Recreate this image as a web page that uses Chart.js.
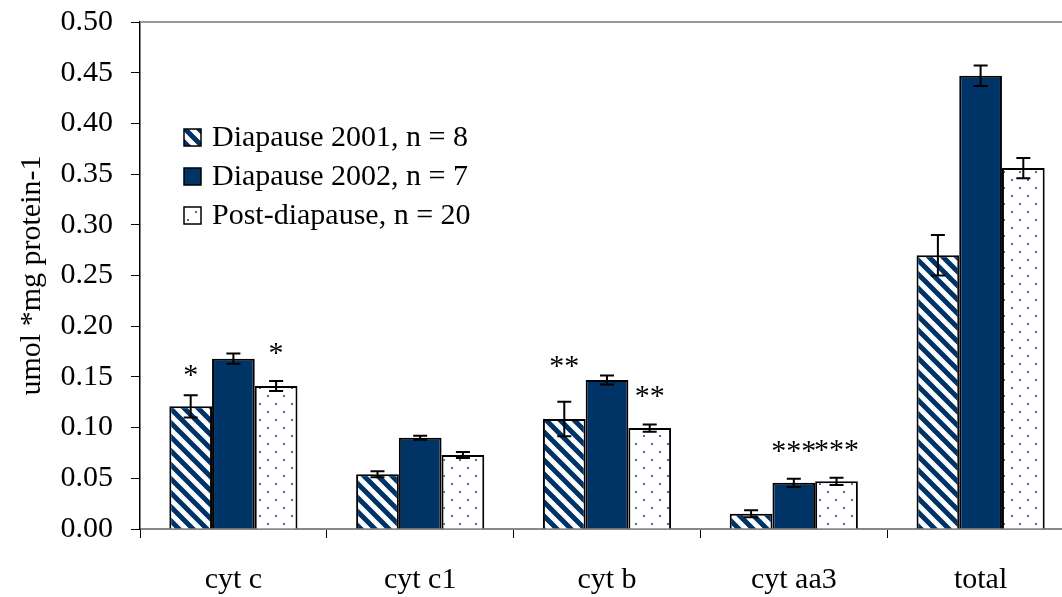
<!DOCTYPE html>
<html>
<head>
<meta charset="utf-8">
<script src="https://cdn.jsdelivr.net/npm/chart.js@4"></script>
<style>
  body { margin: 0; background: #fff; }
  #wrap { width: 1062px; height: 597px; }
</style>
</head>
<body>
<div id="wrap"><canvas id="myChart" width="1062" height="597"></canvas></div>
<script>
let categories = ['cyt c', 'cyt c1', 'cyt b', 'cyt aa3', 'total'];
let seriesNames = ['Diapause 2001, n = 8', 'Diapause 2002, n = 7', 'Post-diapause, n = 20'];
let diapause2001 = [0.121, 0.054, 0.1085, 0.015, 0.27];
let diapause2002 = [0.168, 0.090, 0.147, 0.0455, 0.447];
let postDiapause = [0.141, 0.073, 0.0995, 0.047, 0.356];
let err2001 = [0.011, 0.003, 0.017, 0.0035, 0.020];
let err2002 = [0.005, 0.002, 0.0045, 0.004, 0.010];
let errPost = [0.005, 0.003, 0.0035, 0.0035, 0.010];
// significance marks: [dataset, category, text]
let stars = [
    [0, 0, '*'], [2, 0, '*'],
    [0, 2, '**'], [2, 2, '**'],
    [1, 3, '***'], [2, 3, '***']
];

const navy = '#003366';
const serif = "'Liberation Serif', 'Times New Roman', serif";

function hatchPattern() {
    let c = document.createElement('canvas');
    c.width = 14; c.height = 14;
    let g = c.getContext('2d');
    g.fillStyle = '#fff';
    g.fillRect(0, 0, 14, 14);
    g.strokeStyle = navy;
    g.lineWidth = 5;
    g.beginPath();
    for (let k = -14; k <= 14; k += 14) {
        g.moveTo(k - 3, -3);
        g.lineTo(k + 17, 17);
    }
    g.stroke();
    return g.createPattern(c, 'repeat');
}

function dotPattern() {
    let c = document.createElement('canvas');
    c.width = 16; c.height = 16;
    let g = c.getContext('2d');
    g.fillStyle = '#fff';
    g.fillRect(0, 0, 16, 16);
    g.fillStyle = '#4a6fa0';
    g.fillRect(3, 3, 2, 2);
    g.fillRect(11, 11, 2, 2);
    return g.createPattern(c, 'repeat');
}

let errors = [err2001, err2002, errPost];

const errorBars = {
    id: 'errorBars',
    afterDatasetsDraw(chart) {
        let ctx = chart.ctx;
        let y = chart.scales.y;
        ctx.save();
        ctx.strokeStyle = '#000';
        ctx.lineWidth = 2;
        chart.data.datasets.forEach((ds, di) => {
            let meta = chart.getDatasetMeta(di);
            meta.data.forEach((bar, i) => {
                let v = ds.data[i], e = errors[di][i];
                let top = y.getPixelForValue(v + e);
                let bot = y.getPixelForValue(v - e);
                ctx.beginPath();
                ctx.moveTo(bar.x, top); ctx.lineTo(bar.x, bot);
                ctx.moveTo(bar.x - 7, top); ctx.lineTo(bar.x + 7, top);
                ctx.moveTo(bar.x - 7, bot); ctx.lineTo(bar.x + 7, bot);
                ctx.stroke();
            });
        });
        // stars above the error bars
        ctx.fillStyle = '#000';
        ctx.font = '30px ' + serif;
        ctx.textAlign = 'center';
        ctx.textBaseline = 'middle';
        stars.forEach(([di, i, t]) => {
            let bar = chart.getDatasetMeta(di).data[i];
            let v = chart.data.datasets[di].data[i] + errors[di][i];
            let py = y.getPixelForValue(v) - 36;
            if (i === 0 && di === 0) py += 8;
            if (i === 2 && di === 0) py -= 8;
            ctx.fillText(t, bar.x, py + 9);
        });
        ctx.restore();
    }
};

// the plot runs a little past the right edge of the picture
const widenX = {
    id: 'widenX',
    afterLayout(chart) {
        let x = chart.scales.x;
        x.right += 12;
        x.width += 12;
        chart.chartArea.right += 12;
        chart.chartArea.width += 12;
        x.configure();
    }
};

let ctx = document.getElementById('myChart');

let myChart = new Chart(ctx, {
    type: 'bar',
    data: {
        labels: categories,
        datasets: [{
            label: seriesNames[0],
            data: diapause2001,
            backgroundColor: hatchPattern(),
            borderColor: '#000',
            borderWidth: 2
        }, {
            label: seriesNames[1],
            data: diapause2002,
            backgroundColor: navy,
            borderColor: '#000',
            borderWidth: 2
        }, {
            label: seriesNames[2],
            data: postDiapause,
            backgroundColor: dotPattern(),
            borderColor: '#000',
            borderWidth: 2
        }]
    },
    options: {
        responsive: false,
        animation: false,
        layout: { padding: { top: 22, left: 10, right: 0, bottom: 0 } },
        datasets: { bar: { categoryPercentage: 0.686, barPercentage: 1.0 } },
        plugins: {
            legend: { display: false },
            tooltip: { enabled: false }
        },
        scales: {
            x: {
                afterFit: s => { s.height = 68; s.paddingLeft = 0; s.paddingRight = 0; },
                grid: {
                    offset: true, drawOnChartArea: false, drawTicks: true,
                    tickLength: 9, color: '#000', lineWidth: 1
                },
                border: { color: '#888', width: 2 },
                ticks: { color: '#000', font: { family: serif, size: 30 }, padding: 24 }
            },
            y: {
                afterFit: s => { s.width = 130; s.paddingTop = 0; s.paddingBottom = 0; },
                min: 0, max: 0.5,
                grid: { drawOnChartArea: false, drawTicks: true, tickLength: 9, color: '#000' },
                border: { color: '#000', width: 1.5 },
                ticks: {
                    stepSize: 0.05, color: '#000', padding: 18,
                    font: { family: serif, size: 30 },
                    callback: v => v.toFixed(2)
                },
                title: {
                    display: true, text: 'umol *mg protein-1', color: '#000',
                    font: { family: serif, size: 30 }, padding: { top: 4, bottom: 6 }
                }
            }
        }
    },
    plugins: [widenX, errorBars, {
        id: 'frameAndLegend',
        beforeDatasetsDraw(chart) {
            let c = chart.ctx, a = chart.chartArea;
            c.save();
            c.strokeStyle = '#999';
            c.lineWidth = 2;
            c.beginPath();
            c.moveTo(a.left, a.top);
            c.lineTo(a.right, a.top);
            c.stroke();
            c.restore();
        },
        afterDraw(chart) {
            let c = chart.ctx;
            let fills = chart.data.datasets.map(d => d.backgroundColor);
            c.save();
            c.font = '30px ' + serif;
            c.textBaseline = 'middle';
            let x0 = 184, y0 = 137;
            chart.data.datasets.forEach((ds, i) => {
                let yy = y0 + i * 39;
                c.fillStyle = fills[i];
                c.fillRect(x0, yy - 8, 17, 17);
                c.strokeStyle = '#000';
                c.lineWidth = 1.5;
                c.strokeRect(x0, yy - 8, 17, 17);
                c.fillStyle = '#000';
                c.fillText(ds.label, x0 + 28, yy + 1);
            });
            c.restore();
        }
    }]
});
</script>
</body>
</html>
